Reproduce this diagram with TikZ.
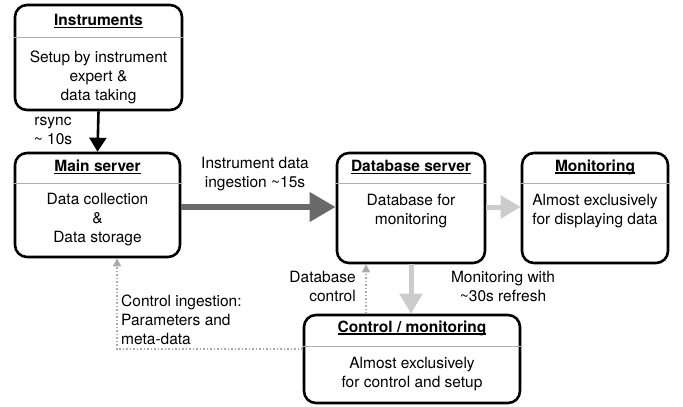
\documentclass[tikz,border=0pt]{standalone}
\usepackage{fontspec}
\setmainfont{TeX Gyre Heros}
\usetikzlibrary{arrows.meta}
\newcommand\myul[1]{\setbox0\hbox{#1}\rlap{\rule[-2.6pt]{\wd0}{1.3pt}}\box0}
\definecolor{darkarr}{HTML}{6A6A6A}
\definecolor{lightarr}{HTML}{CCCCCC}
\definecolor{dotarr}{HTML}{AAAAAA}
\definecolor{divcol}{HTML}{B0B0B0}
\tikzset{
  box/.style={draw=black, line width=2.6pt, rounded corners=12pt, inner sep=0pt},
  ttl/.style={inner sep=0pt, font=\fontsize{15.5}{19}\selectfont\bfseries},
  body/.style={align=center, inner sep=0pt},
  lbl/.style={inner sep=0pt},
  divline/.style={draw=divcol, line width=1pt},
  blkarr/.style={draw=black, line width=2.6pt, -{Triangle[length=14pt,width=17pt]}},
  darkarrow/.style={draw=darkarr, line width=6.5pt, -{Triangle[length=26pt,width=28pt]}},
  lightarrow/.style={draw=lightarr, line width=5pt, -{Triangle[length=20pt,width=22pt]}},
  dotarrow/.style={draw=dotarr, line width=1.5pt, dotted, -{Triangle[length=8pt,width=8pt]}},
}
\begin{document}
\begin{tikzpicture}[x=1pt,y=-1pt, every node/.append style={font=\fontsize{15.5}{19}\selectfont}]
\useasboundingbox[fill=white] (0,0) rectangle (683,407);

% Instruments
\node[box, minimum width=167pt, minimum height=105pt] (inst) at (98.5,57.5) {};
\node[ttl] (instT) at (98.5,21) {\myul{Instruments}};
\draw[divline] (inst.west |- 0,37) -- (inst.east |- 0,37);
\node[body] (instB) at (98.5,77) {Setup by instrument\\expert \&\\data taking};

% Main server
\node[box, minimum width=165pt, minimum height=104pt] (main) at (97.5,205) {};
\node[ttl] (mainT) at (97.5,167) {\myul{Main server}};
\draw[divline] (main.west |- 0,183) -- (main.east |- 0,183);
\node[body] (mainB) at (97.5,220) {Data collection\\\&\\Data storage};

% Database server
\node[box, minimum width=148pt, minimum height=110pt] (db) at (411,208) {};
\node[ttl] (dbT) at (411,167) {\myul{Database server}};
\draw[divline] (db.west |- 0,183) -- (db.east |- 0,183);
\node[body] (dbB) at (411,211) {Database for\\monitoring};

% Monitoring
\node[box, minimum width=146pt, minimum height=110pt] (mon) at (595,208) {};
\node[ttl] (monT) at (595,167) {\myul{Monitoring}};
\draw[divline] (mon.west |- 0,183) -- (mon.east |- 0,183);
\node[body] (monB) at (595,211) {Almost exclusively\\for displaying data};

% Control / monitoring
\node[box, minimum width=216pt, minimum height=88pt] (ctl) at (412,359) {};
\node[ttl] (ctlT) at (412,328) {\myul{Control / monitoring}};
\draw[divline] (ctl.west |- 0,346) -- (ctl.east |- 0,346);
\node[body] (ctlB) at (412,374) {Almost exclusively\\for control and setup};

% Arrows
\draw[blkarr] (inst.south) -- (main.north);
\draw[darkarrow] (main.east |- 0,207) -- (db.west |- 0,207);
\draw[lightarrow] (db.east |- 0,207) -- (mon.west |- 0,207);
\draw[lightarrow] (db.south) -- (db.south |- ctl.north);
\draw[dotarrow] (ctl.north -| 366,0) -- (db.south -| 366,0);
\draw[dotarrow] (ctl.west |- 0,349) -| (main.south -| 117,0);

% Labels
\node[lbl, align=center] (l1) at (53,131) {rsync\\\textasciitilde{} 10s};
\node[lbl, align=center] (l2) at (255,174) {Instrument data\\ingestion \textasciitilde15s};
\node[lbl, align=right, anchor=east] (l3) at (356,286) {Database\\control};
\node[lbl, align=center] (l4) at (503,286) {Monitoring with\\\textasciitilde30s refresh};
\node[lbl, align=left, anchor=west] (l5) at (121,320) {Control ingestion:\\Parameters and\\meta-data};
\end{tikzpicture}
\end{document}
